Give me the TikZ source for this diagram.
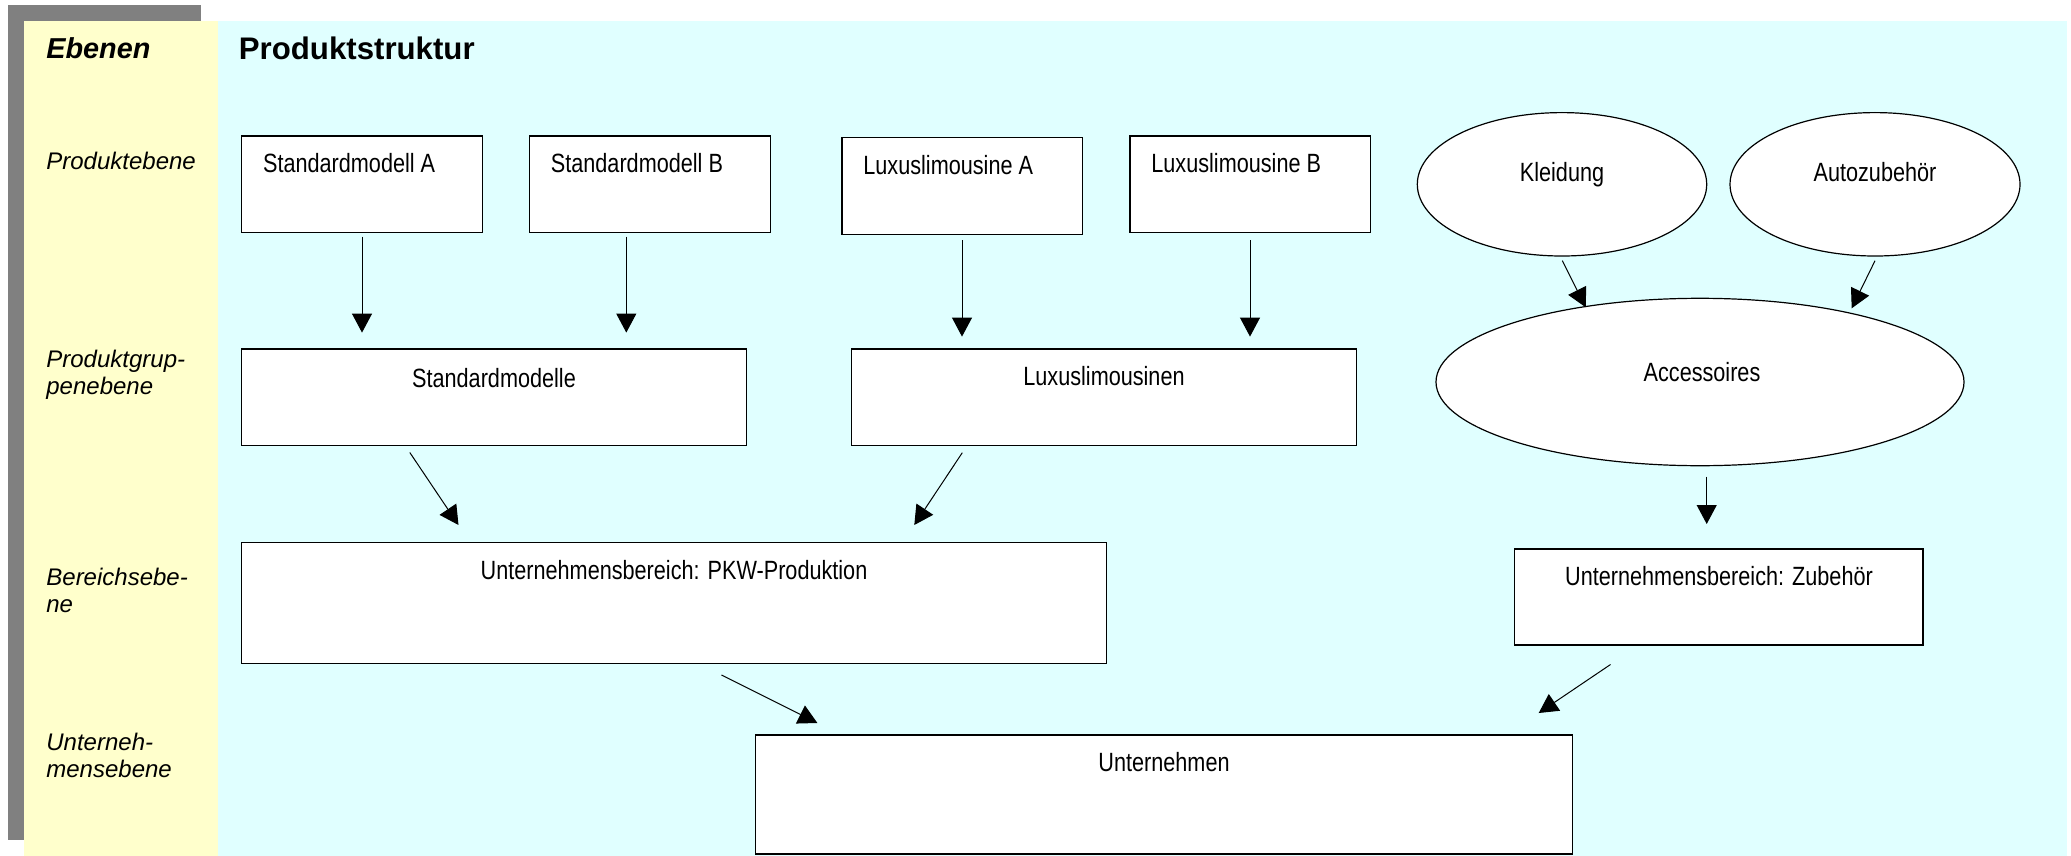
\documentclass[tikz,border=0pt]{standalone}
\usepackage{fontspec}
\setmainfont{Liberation Sans}
\newfontfamily\boxfont[FakeStretch=0.82]{Liberation Sans}
\usetikzlibrary{arrows.meta,shapes.geometric}
\definecolor{colyellow}{HTML}{FFFFCC}
\definecolor{colcyan}{HTML}{E0FFFF}
\definecolor{colgray}{HTML}{808080}
\begin{document}
\begin{tikzpicture}[x=0.5pt,y=-0.5pt,
  box/.style={draw=black, fill=white, line width=0.6pt, inner sep=0pt, outer sep=0pt, anchor=north west},
  oval/.style={ellipse, draw=black, fill=white, line width=0.6pt, inner sep=0pt, outer sep=0pt},
  btxt/.style={font=\boxfont\fontsize{13.2}{15}\selectfont, inner sep=0pt},
  lvl/.style={font=\itshape\fontsize{12}{14}\selectfont, inner sep=0pt, anchor=base west},
  arr/.style={-{Triangle[length=9.5pt,width=10pt]}, line width=0.5pt}]

\useasboundingbox (0,0) rectangle (2071,856);
% background
\fill[colgray] (8,5) rectangle (201,840);
\fill[colyellow] (23.5,21) rectangle (217.5,856);
\fill[colcyan] (217.5,21) rectangle (2067,856);

% headers
\node[font=\bfseries\itshape\fontsize{14.4}{16}\selectfont, inner sep=0pt, anchor=base west] (hEb) at (46,58.5) {Ebenen};
\node[font=\bfseries\fontsize{15.6}{18}\selectfont, inner sep=0pt, anchor=base west] (hPs) at (238.5,60) {Produktstruktur};

% level labels
\node[lvl] (l1) at (46,169.3) {Produktebene};
\node[lvl] (l2a) at (46,367) {Produktgrup-};
\node[lvl] (l2b) at (46,394) {penebene};
\node[lvl] (l3a) at (46,585.5) {Bereichsebe-};
\node[lvl] (l3b) at (46,612) {ne};
\node[lvl] (l4a) at (46,750) {Unterneh-};
\node[lvl] (l4b) at (46,777) {mensebene};

% product level boxes
\node[box, minimum width=120.5pt, minimum height=48.35pt] (sa) at (241.7,136) {};
\node[box, minimum width=120.5pt, minimum height=48.25pt] (sb) at (529.5,136) {};
\node[box, minimum width=120.3pt, minimum height=48.5pt] (la) at (842,137.7) {};
\node[box, minimum width=120.25pt, minimum height=48.15pt] (lb) at (1130,136) {};
\node[btxt, anchor=base west] (saT) at (262.7,172.7) {Standardmodell A};
\node[btxt, anchor=base west] (sbT) at (550.5,172.5) {Standardmodell B};
\node[btxt, anchor=base west] (laT) at (863,174) {Luxuslimousine A};
\node[btxt, anchor=base west] (lbT) at (1151,172.3) {Luxuslimousine B};

% ellipses
\node[oval, minimum width=144.7pt, minimum height=71.7pt] (kl) at (1562,184.3) {};
\node[oval, minimum width=145pt, minimum height=71.7pt] (az) at (1875,184.3) {};
\node[btxt, anchor=base] (klT) at (1562,181.7) {Kleidung};
\node[btxt, anchor=base] (azT) at (1875,181.7) {Autozubehör};

% product group level
\node[box, minimum width=252.45pt, minimum height=48.2pt] (sm) at (241.5,349) {};
\node[box, minimum width=252.4pt, minimum height=48.15pt] (lx) at (851.7,349) {};
\node[btxt, anchor=base] (smT) at (494,387) {Standardmodelle};
\node[btxt, anchor=base] (lxT) at (1104,385.5) {Luxuslimousinen};
\node[oval, minimum width=264pt, minimum height=83.7pt] (acc) at (1700,382) {};
\node[btxt, anchor=base] (accT) at (1702,381.7) {Accessoires};

% division level
\node[box, minimum width=432.5pt, minimum height=60.4pt] (pkw) at (241.5,542.7) {};
\node[box, minimum width=204.3pt, minimum height=48pt] (zub) at (1514.4,549) {};
\node[btxt, anchor=base] (pkwT) at (674,579.5) {Unternehmensbereich: PKW-Produktion};
\node[btxt, anchor=base] (zubT) at (1719,585.5) {Unternehmensbereich: Zubehör};

% company level
\node[box, minimum width=408.4pt, minimum height=59.5pt] (un) at (755.8,735) {};
\node[btxt, anchor=base] (unT) at (1164,771.6) {Unternehmen};

% arrow end points
\coordinate (a1s) at (362,236.7);   \coordinate (a1e) at (362,332.6);
\coordinate (a2s) at (626.3,236.7); \coordinate (a2e) at (626.3,332.6);
\coordinate (a3s) at (962,240);     \coordinate (a3e) at (962,336.6);
\coordinate (a4s) at (1250,240);    \coordinate (a4e) at (1250,336.6);
\coordinate (a5s) at (1562.3,260.7); \coordinate (a5e) at (1585.7,307.3);
\coordinate (a6s) at (1875,260.7);  \coordinate (a6e) at (1851.7,308.3);
\coordinate (a7s) at (409.8,452.5); \coordinate (a7e) at (458.5,525);
\coordinate (a8s) at (962.3,452.7); \coordinate (a8e) at (914.3,525);
\coordinate (a9s) at (1706.7,476.7); \coordinate (a9e) at (1706.7,524);
\coordinate (a10s) at (721.4,675);  \coordinate (a10e) at (817.4,723);
\coordinate (a11s) at (1610.5,664.5); \coordinate (a11e) at (1538.7,713);

\draw[arr] (a1s) -- (a1e);
\draw[arr] (a2s) -- (a2e);
\draw[arr] (a3s) -- (a3e);
\draw[arr] (a4s) -- (a4e);
\draw[arr] (a5s) -- (a5e);
\draw[arr] (a6s) -- (a6e);
\draw[arr] (a7s) -- (a7e);
\draw[arr] (a8s) -- (a8e);
\draw[arr] (a9s) -- (a9e);
\draw[arr] (a10s) -- (a10e);
\draw[arr] (a11s) -- (a11e);
\end{tikzpicture}
\end{document}
